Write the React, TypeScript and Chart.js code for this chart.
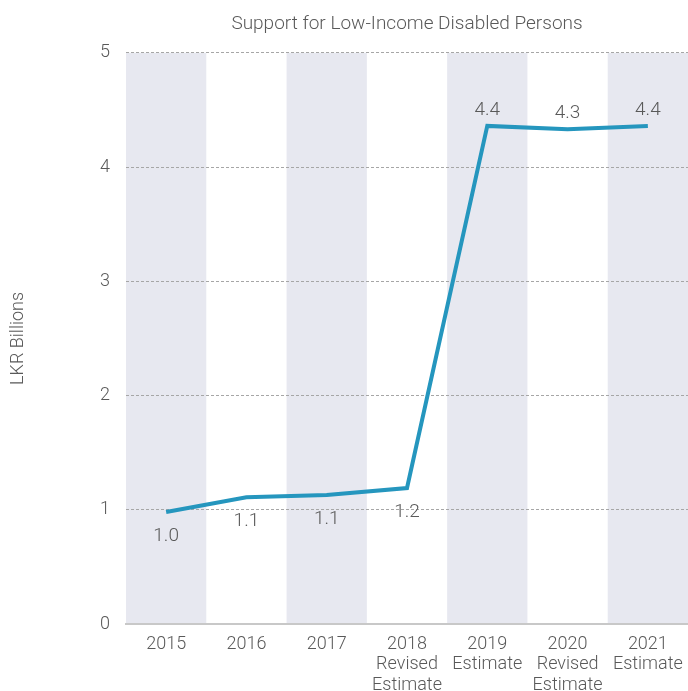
import React, { useEffect, useRef } from "react";
import { Chart, registerables } from "chart.js";

Chart.register(...registerables);

const categories: string[][] = [
  ["2015"],
  ["2016"],
  ["2017"],
  ["2018", "Revised", "Estimate"],
  ["2019", "Estimate"],
  ["2020", "Revised", "Estimate"],
  ["2021", "Estimate"],
];
const values: number[] = [0.98, 1.11, 1.13, 1.19, 4.36, 4.33, 4.36];
const valueLabels: string[] = ["1.0", "1.1", "1.1", "1.2", "4.4", "4.3", "4.4"];
const labelAbove: boolean[] = [false, false, false, false, true, true, true];
const shadedBands: boolean[] = [true, false, true, false, true, false, true];
const yTicks: number[] = [0, 1, 2, 3, 4, 5];

const FONT = "Roboto";
const TEXT = "#595959";

const bandPlugin = {
  id: "bands",
  beforeDraw(chart: any) {
    const { ctx, chartArea, scales } = chart;
    const x = scales.x;
    const w = x.getPixelForValue(1) - x.getPixelForValue(0);
    ctx.save();
    ctx.fillStyle = "#e7e8f0";
    shadedBands.forEach((s, i) => {
      if (!s) return;
      const c = x.getPixelForValue(i);
      ctx.fillRect(c - w / 2, chartArea.top, w, chartArea.bottom - chartArea.top);
    });
    ctx.restore();
  },
};

const labelPlugin = {
  id: "valueLabels",
  afterDatasetsDraw(chart: any) {
    const { ctx } = chart;
    const meta = chart.getDatasetMeta(0);
    ctx.save();
    ctx.font = `300 19px ${FONT}`;
    ctx.fillStyle = TEXT;
    ctx.textAlign = "center";
    ctx.textBaseline = "middle";
    meta.data.forEach((pt: any, i: number) => {
      const dy = labelAbove[i] ? -16 : 24;
      ctx.fillText(valueLabels[i], pt.x, pt.y + dy);
    });
    ctx.restore();
  },
};

export default function App() {
  const ref = useRef<HTMLCanvasElement>(null);
  useEffect(() => {
    document.body.style.margin = "0";
    const chart = new Chart(ref.current!, {
      type: "line",
      data: {
        labels: categories,
        datasets: [
          {
            data: values,
            borderColor: "#2596be",
            borderWidth: 4,
            pointRadius: 0,
            tension: 0,
            fill: false,
          },
        ],
      },
      options: {
        animation: false,
        responsive: false,
        layout: { padding: { top: 12, right: 0, bottom: 0, left: 0 } },
        plugins: {
          legend: { display: false },
          tooltip: { enabled: false },
          title: {
            display: true,
            text: "Support for Low-Income Disabled Persons",
            fullSize: false,
            color: TEXT,
            font: { family: FONT, size: 19, weight: "300" as any, lineHeight: 1.2 },
            padding: { top: 1, bottom: 17 },
          },
        },
        scales: {
          x: {
            offset: true,
            grid: { display: false, drawTicks: false },
            border: { display: true, color: "#c8c8c8", width: 2 },
            afterFit: (scale: any) => {
              scale.height = 67;
              scale.paddingLeft = 0;
              scale.paddingRight = 0;
            },
            ticks: {
              color: TEXT,
              font: { family: FONT, size: 18, weight: "300" as any, lineHeight: 1.14 },
              padding: 10,
              maxRotation: 0,
              autoSkip: false,
            },
          },
          y: {
            min: 0,
            max: 5,
            afterBuildTicks: (scale: any) => {
              scale.ticks = yTicks.map((v) => ({ value: v }));
            },
            afterFit: (scale: any) => {
              scale.width = 126;
            },
            grid: {
              drawTicks: false,
              color: (c: any) => (c.tick && c.tick.value === 0 ? "rgba(0,0,0,0)" : "#a6a6a6"),
              lineWidth: 1,
            },
            border: { display: false, dash: [3, 2] },
            ticks: {
              color: TEXT,
              font: { family: FONT, size: 18, weight: "300" as any },
              padding: 16,
            },
            title: {
              display: true,
              text: "LKR Billions",
              color: TEXT,
              font: { family: FONT, size: 18, weight: "300" as any },
              padding: { top: 8, bottom: 0 },
            },
          },
        },
      },
      plugins: [bandPlugin, labelPlugin],
    });
    return () => chart.destroy();
  }, []);
  return (
    <div style={{ width: 688, height: 691 }}>
      <canvas ref={ref} width={688} height={691} />
    </div>
  );
}
